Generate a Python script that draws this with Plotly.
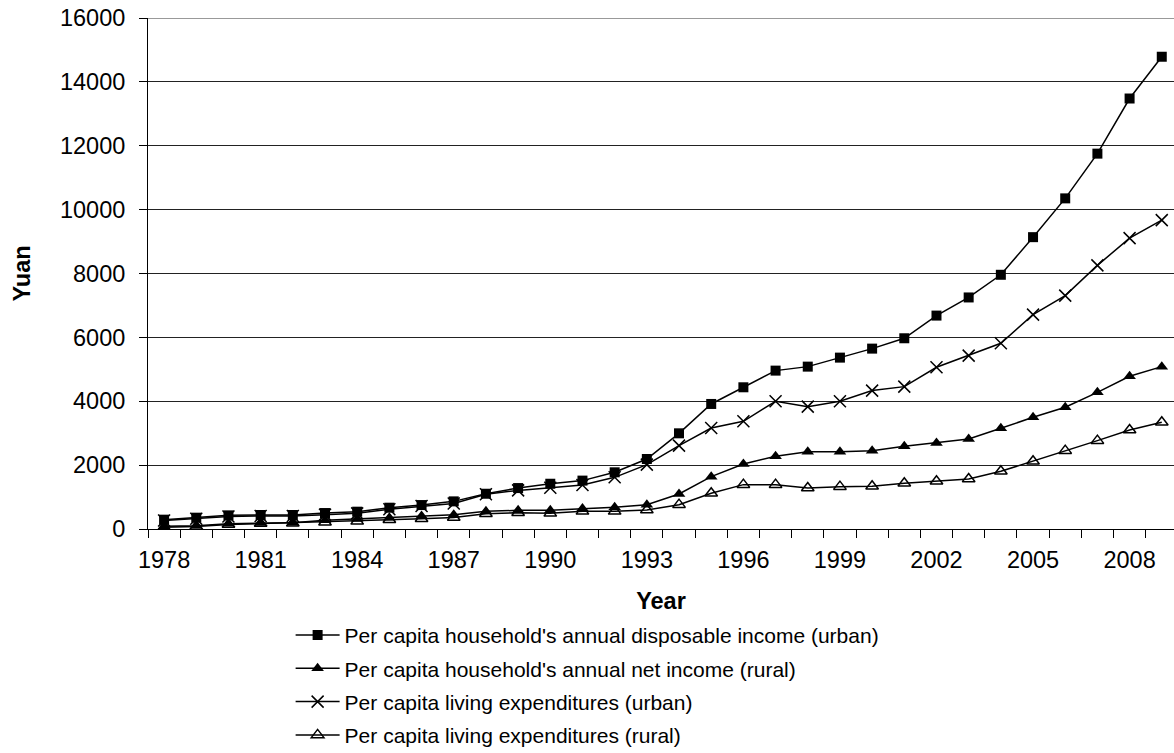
import plotly.graph_objects as go

years = list(range(1978, 2010))
urban_income = [292, 354, 427, 438, 438, 500, 542, 667, 750, 865, 1104, 1282, 1417, 1515, 1775, 2192,
                2996, 3915, 4437, 4959, 5084, 5366, 5648, 5972, 6682, 7250, 7960, 9138, 10352, 11753, 13479, 14787]
rural_income = [83, 104, 167, 188, 198, 271, 313, 354, 406, 448, 552, 584, 584, 640, 679, 762,
                1096, 1639, 2036, 2276, 2422, 2422, 2453, 2589, 2694, 2819, 3153, 3497, 3811, 4280, 4782, 5084]
urban_exp = [265, 320, 390, 410, 410, 450, 490, 620, 720, 800, 1090, 1209, 1292, 1380, 1618, 2015,
             2610, 3163, 3372, 3999, 3831, 3999, 4333, 4458, 5063, 5429, 5815, 6713, 7308, 8255, 9107, 9672]
rural_exp = [52, 80, 140, 170, 180, 210, 240, 290, 320, 360, 480, 510, 490, 553, 553, 595,
             762, 1117, 1389, 1389, 1284, 1326, 1336, 1430, 1493, 1566, 1806, 2119, 2453, 2767, 3101, 3341]

names = ["Per capita household's annual disposable income (urban)",
         "Per capita household's annual net income (rural)",
         "Per capita living expenditures (urban)",
         "Per capita living expenditures (rural)"]
label_years = list(range(1978, 2010, 3))
y_ticks = list(range(0, 16001, 2000))

FONT = "Liberation Sans, Arial, sans-serif"

fig = go.Figure()
series = [
    (urban_income, dict(symbol="square", size=10, color="black")),
    (rural_income, dict(symbol="triangle-up", size=11, color="black")),
    (urban_exp, dict(symbol="x-thin", size=12, color="black", line=dict(width=1.5, color="black"))),
    (rural_exp, dict(symbol="triangle-up-open", size=11, color="black", line=dict(width=1.5, color="black"))),
]
for i, (vals, mk) in enumerate(series):
    fig.add_trace(go.Scatter(
        x=years, y=vals, mode="lines+markers", name=names[i],
        line=dict(color="black", width=1.5), marker=mk,
        legendgroup=f"g{i}",
    ))

fig.update_layout(
    width=1174, height=753,
    margin=dict(l=148, r=0, t=18, b=224, autoexpand=False),
    paper_bgcolor="white", plot_bgcolor="white",
    font=dict(family=FONT, size=21, color="black"),
    showlegend=True,
    legend=dict(x=0.139, y=-0.168, xanchor="left", yanchor="top",
                font=dict(size=21), traceorder="grouped", tracegroupgap=3,
                bgcolor="rgba(0,0,0,0)", itemwidth=44),
    xaxis=dict(
        range=[1977.5, 2009.38], tickmode="array", tickvals=label_years,
        ticktext=[str(y) for y in label_years], ticks="",
        showgrid=False, zeroline=False, showline=True, linecolor="black", linewidth=1,
        tickfont=dict(size=23.5), ticklabelstandoff=10,
        minor=dict(tickmode="array", tickvals=[y - 0.5 for y in years] + [2009.5],
                   ticks="outside", ticklen=8, tickcolor="black", tickwidth=1, showgrid=False),
        title=dict(text="<b>Year</b>", font=dict(size=23.5), standoff=20),
    ),
    yaxis=dict(
        range=[0, 16000], tickmode="array", tickvals=y_ticks,
        ticktext=[str(v) for v in y_ticks],
        ticks="outside", ticklen=8, tickcolor="black",
        showgrid=True, gridcolor="#222222", gridwidth=1,
        zeroline=False, showline=True, linecolor="black", linewidth=1,
        tickfont=dict(size=23.5), ticklabelstandoff=9,
        title=dict(text="<b>Yuan</b>", font=dict(size=23.5), standoff=22),
    ),
)
fig.add_shape(type="line", xref="paper", yref="y", x0=0, x1=1, y0=16000, y1=16000,
              line=dict(color="#999999", width=2))

fig.write_html("out.html", config={"displayModeBar": False},
               post_script="document.body.style.margin='0';")
